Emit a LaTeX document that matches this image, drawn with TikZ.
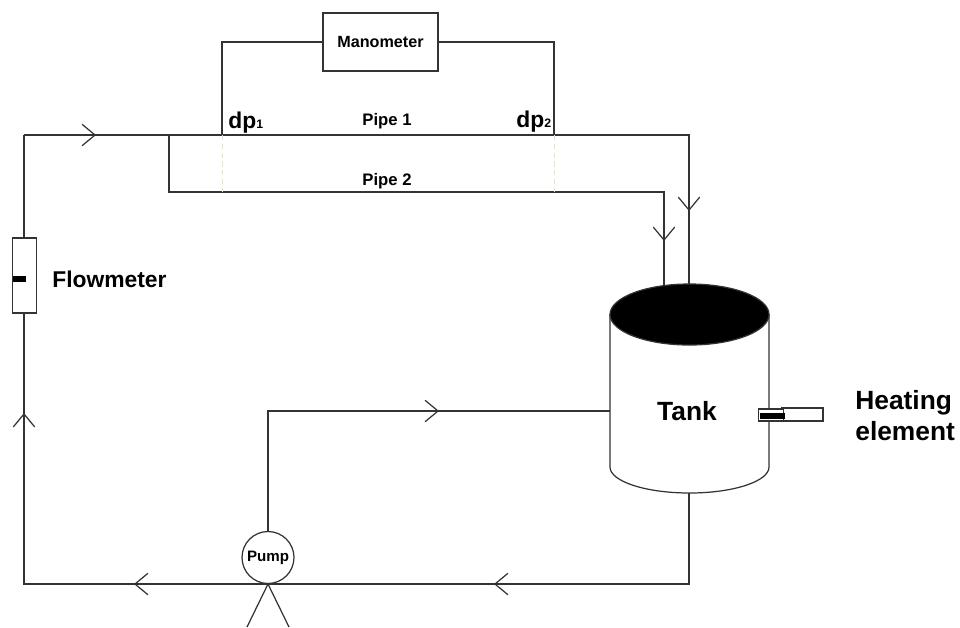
\documentclass[tikz,border=0pt]{standalone}
\usepackage{xcolor}
\usepackage{fontspec}
\setmainfont{Liberation Sans}
\usetikzlibrary{arrows.meta}
\definecolor{pipeline}{HTML}{333333}
\definecolor{tapline}{HTML}{E6E6C0}
\newcommand{\fsz}[1]{\fontsize{#1}{#1}\selectfont\bfseries}

\begin{document}
\begin{tikzpicture}[x=0.02cm, y=-0.02cm,
    pipe/.style={draw=pipeline, line width=0.7pt},
    flow/.style={pipe, -{Straight Barb[length=0.26cm, width=0.43cm]}},
    box/.style={draw=pipeline, line width=0.7pt, fill=white, rectangle, inner sep=0pt},
    bar/.style={fill=black, rectangle, inner sep=0pt},
    small/.style={font=\fsz{9.5}, inner sep=0pt},
    big/.style={font=\fsz{15}, inner sep=0pt}]
    \useasboundingbox (0,0) rectangle (960,627);

    % Points on the pipes
    \coordinate (corner) at (24,135);
    \coordinate (flowtip) at (96,135);
    \coordinate (split) at (169,135);
    \coordinate (tap1) at (222,135);
    \coordinate (tap2) at (554,135);
    \coordinate (turn1) at (689,135);
    \coordinate (tip1) at (689,211);
    \coordinate (in1) at (689,290);
    \coordinate (bend) at (169,192);
    \coordinate (low1) at (222,192);
    \coordinate (low2) at (554,192);
    \coordinate (turn2) at (664,192);
    \coordinate (tip2) at (664,241);
    \coordinate (in2) at (664,290);
    \coordinate (outlet) at (610,411);
    \coordinate (returntip) at (439,411);
    \coordinate (turn3) at (268,411);
    \coordinate (drain) at (689,490);
    \coordinate (turn4) at (689,584);
    \coordinate (tip3) at (494,584);
    \coordinate (base) at (268,584);
    \coordinate (tip4) at (134,584);
    \coordinate (turn5) at (24,584);
    \coordinate (tip5) at (24,413);
    \coordinate (legl) at (247,627);
    \coordinate (legr) at (289,627);

    % Pipes behind the equipment
    \draw[pipe] (corner) -- (flowtip) -- (turn1) -- (in1);
    \draw[flow] (corner) -- (flowtip);
    \draw[flow] (turn1) -- (tip1);
    \draw[pipe] (split) -- (bend) -- (turn2) -- (in2);
    \draw[flow] (turn2) -- (tip2);
    \draw[pipe] (outlet) -- (turn3) -- (base);
    \draw[flow] (turn3) -- (returntip);
    \draw[pipe] (drain) -- (turn4) -- (turn5) -- (corner);
    \draw[flow] (turn4) -- (tip3);
    \draw[flow] (base) -- (tip4);
    \draw[flow] (turn5) -- (tip5);
    \draw[tapline, densely dashed] (tap1) -- (low1);
    \draw[tapline, densely dashed] (tap2) -- (low2);

    % Tank
    \draw[pipe, fill=white] (610,314) -- (610,467) arc[start angle=180, end angle=0, x radius=79.5, y radius=26] -- (769,314);
    \draw[pipe, fill=black] (689.5,314.5) ellipse[x radius=79.5, y radius=30.5];
    \node[big] (tank) at (687,411) {Tank};

    % Equipment
    \node[box, minimum width=2.3cm, minimum height=1.16cm] (manometer) at (380.5,42) {\fsz{9.2}Manometer};
    \node[box, minimum width=0.49cm, minimum height=1.5cm] (flowmeter) at (24.5,275.5) {};
    \node[bar, minimum width=0.26cm, minimum height=0.12cm] (flowbar) at (19.5,279) {};
    \node[box, circle, minimum size=1.04cm] (pump) at (268,557.5) {\fsz{8.6}Pump};
    \node[box, minimum width=0.82cm, minimum height=0.26cm] (heater) at (802.5,414.5) {};
    \node[box, minimum width=0.5cm, minimum height=0.24cm] (sheath) at (771,415) {};
    \node[bar, minimum width=0.5cm, minimum height=0.12cm] (heatbar) at (772,416) {};

    % Connections
    \draw[pipe] (tap1) |- (manometer.west);
    \draw[pipe] (tap2) |- (manometer.east);
    \draw[pipe] (base) -- (legl);
    \draw[pipe] (base) -- (legr);

    % Labels
    \node[font=\fsz{13}, inner sep=0pt, anchor=base west] (dpone) at (228,128) {dp{\fsz{7}1}};
    \node[font=\fsz{13}, inner sep=0pt, anchor=base west] (dptwo) at (516,127) {dp{\fsz{7}2}};
    \node[small] (pipeone) at (387,121.5) {Pipe 1};
    \node[small] (pipetwo) at (387,181.5) {Pipe 2};
    \node[font=\fsz{13}, inner sep=0pt, anchor=west] (flowlabel) at (52,279) {Flowmeter};
    \node[big, anchor=west, align=left] (heatlabel) at (855,415.5) {Heating\\[3pt]element};
\end{tikzpicture}
\end{document}
